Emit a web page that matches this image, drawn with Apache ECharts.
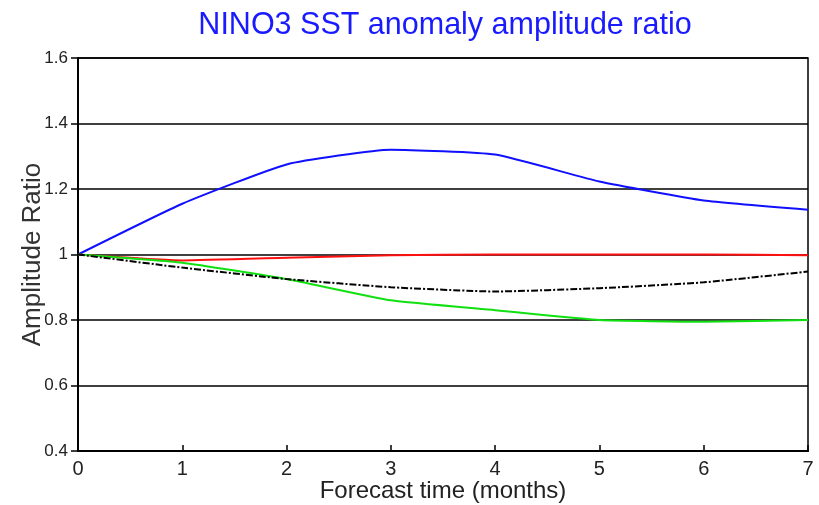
<!DOCTYPE html>
<html>
<head>
<meta charset="utf-8">
<script src="https://cdn.jsdelivr.net/npm/echarts@6/dist/echarts.min.js"></script>
<style>
  html, body { margin: 0; padding: 0; background: #fff; }
  #chart { width: 819px; height: 505px; }
</style>
</head>
<body>
<div id="chart"></div>
<script>
// forecast lead time (months)
const months = [0, 1, 2, 3, 4, 5, 6, 7];
const blueRatio = [1.0, 1.155, 1.275, 1.32, 1.305, 1.223, 1.165, 1.137];
const redRatio = [1.0, 0.982, 0.99, 0.998, 1.0, 1.0, 1.0, 0.998];
const greenRatio = [1.0, 0.975, 0.925, 0.86, 0.83, 0.80, 0.795, 0.80];
const blackRatio = [1.0, 0.96, 0.925, 0.9, 0.887, 0.897, 0.915, 0.948];

const pairs = vals => months.map((m, i) => [m, vals[i]]);

const chart = echarts.init(document.getElementById('chart'), null, { renderer: 'canvas' });

const font = 'Liberation Sans, Arial, sans-serif';

const line = (name, vals, color, type) => ({
  name,
  type: 'line',
  data: pairs(vals),
  smooth: 0.15,
  symbol: 'none',
  lineStyle: { color, width: 2, type },
  z: 3
});

chart.setOption({
  backgroundColor: '#fff',
  animation: false,
  title: {
    text: 'NINO3 SST anomaly amplitude ratio',
    left: 440,
    textAlign: 'center',
    top: 5,
    textStyle: { color: '#1a1aff', fontSize: 30.5, fontWeight: 'normal', fontFamily: font }
  },
  grid: {
    left: 78, right: 11, top: 58, bottom: 54,
    outerBoundsMode: 'none',
    containLabel: false,
    show: true, borderColor: '#000', borderWidth: 1.5
  },
  xAxis: {
    type: 'value',
    min: 0, max: 7, interval: 1,
    name: 'Forecast time (months)',
    nameLocation: 'middle',
    nameGap: 28,
    nameMoveOverlap: false,
    nameTextStyle: { color: '#222', fontSize: 24, fontFamily: font },
    axisLine: { lineStyle: { color: '#000', width: 2 } },
    axisTick: { inside: true, length: 6, lineStyle: { color: '#000', width: 1.5 } },
    axisLabel: { color: '#222', fontSize: 20, fontFamily: font, margin: 8 },
    splitLine: { show: false }
  },
  yAxis: {
    type: 'value',
    min: 0.4, max: 1.6, interval: 0.2,
    name: 'Amplitude Ratio',
    nameLocation: 'middle',
    nameGap: 32,
    nameMoveOverlap: false,
    nameTextStyle: { color: '#333', fontSize: 26, fontFamily: font },
    axisLine: { lineStyle: { color: '#000', width: 2 } },
    axisTick: { length: 7, lineStyle: { color: '#000', width: 1.5 } },
    axisLabel: {
      color: '#222', fontSize: 17, fontFamily: font, margin: 10,
      formatter: v => (Math.abs(v - 1) < 1e-6 ? '1' : v.toFixed(1))
    },
    splitLine: { show: true, lineStyle: { color: '#000', width: 1.5 } }
  },
  series: [
    line('blue', blueRatio, '#1010ff', 'solid'),
    line('red', redRatio, '#ff1010', 'solid'),
    line('green', greenRatio, '#10e010', 'solid'),
    line('black', blackRatio, '#000', [7, 2, 2, 2])
  ]
});
</script>
</body>
</html>
